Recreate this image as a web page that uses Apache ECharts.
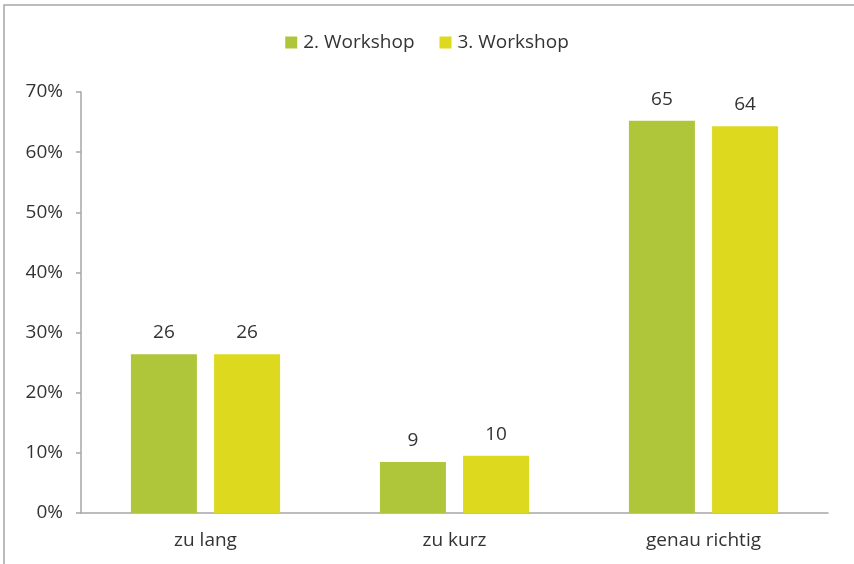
<!DOCTYPE html>
<html>
<head>
<meta charset="utf-8">
<script src="https://cdn.jsdelivr.net/npm/echarts@6/dist/echarts.min.js"></script>
<style>
html, body { margin: 0; padding: 0; background: #fff; }
#chart1 { width: 854px; height: 564px; }
</style>
</head>
<body>
<div id="chart1"></div>
<script>
// Kategorien und Werte (in Prozent)
var categories = ['zu lang', 'zu kurz', 'genau richtig'];
var workshop2 = [26.4, 8.5, 65.2];
var workshop3 = [26.4, 9.5, 64.3];
var seriesNames = ['2. Workshop', '3. Workshop'];

var color = ['#afc53a', '#dcd91f'];
var fontFamily = '"Open Sans", "Noto Sans", sans-serif';

var chart1 = echarts.init(document.getElementById('chart1'));

var labelOpt = {
    show: true,
    position: 'top',
    distance: 12,
    color: '#333',
    fontSize: 19,
    fontFamily: fontFamily,
    formatter: function (p) { return Math.round(p.value); }
};

var option = {
    animation: false,
    color: color,
    textStyle: { fontFamily: fontFamily },
    graphic: [
        {
            type: 'polyline',
            shape: { points: [[4, 564], [4, 5], [854, 5]] },
            style: { stroke: '#a6a6a6', lineWidth: 1.5, fill: null },
            silent: true
        }
    ],
    legend: {
        top: 28,
        left: 'center',
        itemWidth: 12,
        itemHeight: 12,
        itemGap: 25,
        icon: 'rect',
        textStyle: { fontSize: 19, color: '#333', fontFamily: fontFamily, padding: [0, 0, 0, 1] },
        data: seriesNames
    },
    grid: {
        left: 81,
        right: 26,
        top: 92,
        bottom: 51
    },
    xAxis: {
        type: 'category',
        data: categories,
        axisLine: { lineStyle: { color: '#a6a6a6', width: 1.5 } },
        axisTick: { show: false },
        axisLabel: { color: '#333', fontSize: 19, fontFamily: fontFamily, margin: 18 }
    },
    yAxis: {
        type: 'value',
        min: 0,
        max: 70,
        interval: 10,
        axisLine: { show: true, lineStyle: { color: '#a6a6a6', width: 1.5 } },
        axisTick: { show: true, length: 5, lineStyle: { color: '#a6a6a6', width: 1.5 } },
        splitLine: { show: false },
        axisLabel: { color: '#333', fontSize: 19, fontFamily: fontFamily, margin: 18, formatter: '{value}%' }
    },
    series: [
        {
            name: seriesNames[0],
            type: 'bar',
            data: workshop2,
            barWidth: 66,
            barGap: '26%',
            label: labelOpt
        },
        {
            name: seriesNames[1],
            type: 'bar',
            data: workshop3,
            barWidth: 66,
            barGap: '26%',
            label: labelOpt
        }
    ]
};

chart1.setOption(option);
</script>
</body>
</html>
